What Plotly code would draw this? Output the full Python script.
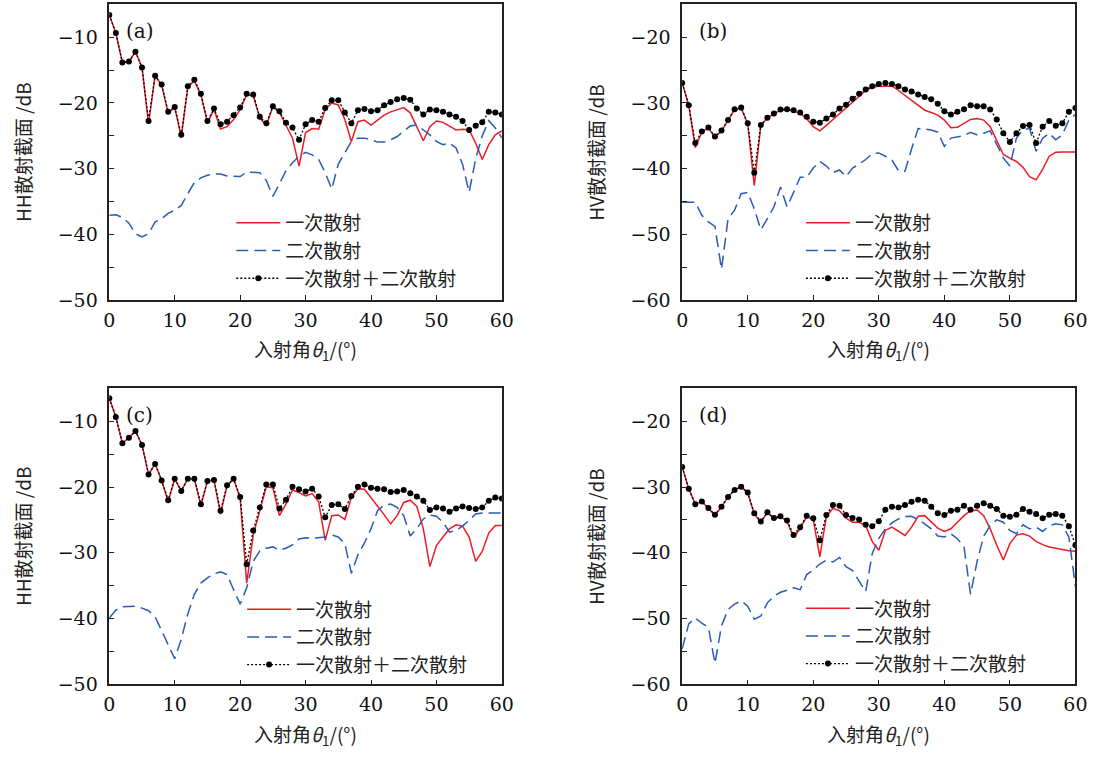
import plotly.graph_objects as go

W, H = 1113, 760

angles = list(range(61))

# ---------------- panel (a): HH ----------------
a_single = [-6.6, -9.35, -13.85, -13.7, -12.2, -14.6, -23.2, -15.85, -17.3, -21.5,
            -20.7, -25.2, -17.6, -16.6, -18.8, -23.0, -21.0, -23.95, -23.6, -22.5,
            -21.0, -18.75, -18.9, -22.3, -23.4, -20.6, -21.4, -23.3, -25.35, -29.6,
            -24.5, -23.9, -24.0, -21.0, -20.0, -20.3, -22.5, -25.85, -22.85, -22.6,
            -23.35, -22.6, -21.85, -21.35, -21.0, -20.7, -21.5, -23.6, -25.75, -23.6,
            -22.75, -22.95, -23.5, -24.1, -24.0, -24.1, -26.1, -28.6, -26.35, -24.85, -24.25]
a_double = [-37.1, -37.0, -37.4, -38.3, -39.9, -40.4, -39.9, -38.1, -37.6, -36.8,
            -36.3, -35.6, -33.8, -32.1, -31.4, -31.0, -30.8, -30.8, -31.1, -31.2,
            -31.2, -30.5, -30.5, -30.6, -31.8, -34.2, -32.3, -30.3, -29.1, -28.1,
            -27.5, -27.9, -28.6, -30.6, -33.1, -29.3, -27.6, -25.85, -25.35, -25.35,
            -25.6, -25.95, -25.95, -25.6, -25.1, -24.35, -23.5, -23.35, -24.1, -24.85,
            -25.85, -26.35, -26.1, -26.85, -29.35, -33.6, -28.5, -25.0, -22.7, -23.8, -25.3]
a_total = [-6.6, -9.35, -13.85, -13.7, -12.2, -14.6, -22.75, -15.85, -17.2, -21.35,
           -20.6, -24.85, -17.45, -16.45, -18.6, -22.75, -20.85, -23.25, -22.85, -21.85,
           -20.7, -18.6, -18.7, -22.1, -23.1, -20.5, -21.25, -23.0, -23.75, -25.6,
           -23.25, -22.6, -22.85, -20.75, -19.6, -19.6, -21.45, -23.1, -21.1, -20.9,
           -21.25, -21.1, -20.35, -19.85, -19.45, -19.25, -19.5, -20.85, -21.75, -21.0,
           -21.1, -21.35, -21.75, -22.1, -22.75, -24.1, -23.45, -22.95, -21.35, -21.45, -21.75]

# ---------------- panel (b): HV ----------------
b_single = [-26.95, -30.35, -36.8, -34.4, -33.8, -35.2, -34.25, -32.65, -31.0, -30.75,
            -33.2, -42.6, -33.4, -32.3, -31.7, -31.1, -31.05, -31.2, -31.6, -32.4,
            -33.6, -34.25, -33.4, -32.5, -31.6, -30.8, -29.8, -28.9, -28.1, -27.6,
            -27.45, -27.45, -27.4, -28.1, -28.85, -29.6, -30.35, -31.1, -31.45, -31.85,
            -32.6, -33.75, -33.7, -33.1, -32.5, -32.35, -32.6, -33.6, -35.85, -37.84,
            -38.4, -38.9, -39.8, -41.2, -41.7, -40.1, -38.1, -37.5, -37.45, -37.45, -37.45]
b_double = [-45.1, -45.1, -45.1, -47.1, -48.1, -48.8, -55.3, -47.6, -46.3, -43.8,
            -43.6, -46.1, -49.3, -47.6, -45.8, -42.8, -45.8, -43.6, -41.3, -41.3,
            -39.9, -38.9, -39.6, -40.6, -40.2, -41.2, -39.9, -39.3, -38.6, -37.7,
            -37.6, -38.1, -38.7, -40.3, -40.4, -37.0, -33.9, -33.95, -34.1, -34.45,
            -36.6, -35.35, -35.1, -34.95, -34.45, -34.85, -34.6, -34.25, -36.35, -38.35,
            -39.6, -35.35, -34.1, -33.85, -37.35, -35.35, -34.6, -35.6, -34.85, -32.6, -31.75]
b_total = [-26.95, -30.35, -36.1, -34.35, -33.75, -35.1, -34.2, -32.6, -30.95, -30.7,
           -33.1, -40.6, -33.35, -32.25, -31.6, -31.0, -30.95, -31.1, -31.45, -32.1,
           -32.85, -33.0, -32.35, -31.75, -30.85, -30.25, -29.35, -28.6, -27.95, -27.45,
           -27.1, -26.95, -27.1, -27.45, -27.95, -28.25, -28.7, -29.1, -29.45, -30.1,
           -31.25, -31.75, -31.35, -30.95, -30.35, -30.5, -30.5, -31.0, -32.5, -34.6,
           -35.95, -34.6, -33.5, -33.35, -36.1, -33.6, -32.75, -33.45, -33.1, -31.35, -30.75]

# ---------------- panel (c): HH ----------------
c_single = [-6.5, -9.35, -13.35, -12.5, -11.5, -13.6, -18.1, -16.5, -19.0, -22.2,
            -18.75, -20.6, -18.75, -18.75, -22.8, -19.1, -18.95, -24.1, -19.8, -18.8,
            -21.7, -34.6, -27.3, -23.6, -19.95, -20.1, -24.35, -22.6, -20.45, -20.85,
            -21.35, -21.0, -22.25, -28.1, -24.35, -24.25, -24.95, -21.6, -20.25, -20.35,
            -21.6, -22.85, -24.2, -25.6, -24.35, -22.35, -22.0, -22.95, -26.35, -32.1,
            -28.9, -27.6, -26.35, -25.75, -25.95, -27.6, -31.3, -29.8, -27.0, -25.85, -25.85]
c_double = [-39.9, -38.7, -38.2, -38.1, -38.1, -38.4, -38.8, -39.7, -41.8, -44.1,
            -46.1, -43.1, -39.3, -36.3, -34.6, -33.8, -33.2, -32.9, -33.3, -35.6,
            -37.8, -35.3, -31.3, -29.7, -29.3, -29.1, -29.6, -29.3, -28.8, -27.9,
            -27.7, -27.8, -27.7, -27.6, -27.3, -27.6, -28.6, -33.1, -30.3, -28.5,
            -26.35, -23.6, -22.75, -22.6, -23.1, -24.35, -27.45, -26.35, -24.85, -24.25,
            -24.45, -25.35, -26.85, -26.6, -25.95, -24.95, -24.1, -23.95, -23.95, -23.95, -23.95]
c_total = [-6.5, -9.35, -13.35, -12.5, -11.5, -13.6, -18.1, -16.5, -19.0, -22.0,
           -18.75, -20.6, -18.75, -18.75, -22.6, -19.1, -18.95, -23.6, -19.75, -18.75,
           -21.5, -31.74, -26.6, -23.1, -19.6, -19.6, -23.25, -21.95, -19.95, -20.35,
           -20.7, -20.25, -21.45, -24.6, -22.75, -22.6, -23.35, -21.35, -19.95, -19.6,
           -20.1, -20.25, -20.35, -20.75, -20.7, -20.45, -20.95, -21.45, -22.1, -23.5,
           -23.1, -23.25, -23.75, -23.25, -22.95, -23.2, -23.35, -23.1, -22.1, -21.6, -21.75]

# ---------------- panel (d): HV ----------------
d_single = [-26.95, -30.25, -32.6, -32.2, -33.25, -34.3, -33.0, -31.5, -30.45, -29.95,
            -30.9, -34.1, -35.35, -33.9, -34.8, -34.55, -35.2, -37.7, -36.3, -34.5,
            -34.95, -40.6, -34.45, -33.25, -33.6, -34.75, -35.35, -35.35, -35.85, -38.3,
            -39.6, -36.6, -36.1, -36.75, -37.35, -36.1, -34.45, -34.35, -35.25, -36.25,
            -36.75, -36.35, -35.35, -34.35, -33.6, -33.5, -34.35, -36.35, -38.84, -41.1,
            -38.6, -37.3, -37.1, -37.45, -38.25, -38.75, -39.1, -39.35, -39.5, -39.7, -39.75]
d_double = [-54.6, -50.8, -49.9, -50.7, -51.3, -56.8, -51.1, -48.6, -47.8, -47.3,
            -48.1, -50.1, -49.6, -47.6, -46.6, -46.0, -45.7, -45.3, -45.6, -43.3,
            -42.6, -41.7, -41.1, -41.4, -40.7, -42.1, -42.7, -44.3, -45.9, -40.1,
            -37.8, -36.35, -35.45, -34.85, -34.5, -34.45, -34.95, -35.6, -36.35, -37.45,
            -37.6, -37.1, -37.85, -39.1, -46.3, -41.3, -37.45, -35.85, -35.0, -35.35,
            -36.6, -37.1, -35.75, -36.35, -36.1, -36.75, -35.85, -35.6, -35.75, -37.6, -45.1]
d_total = [-26.95, -30.25, -32.6, -32.2, -33.2, -34.2, -33.0, -31.5, -30.45, -29.95,
           -30.85, -34.0, -35.25, -33.85, -34.7, -34.45, -35.1, -37.3, -36.1, -34.35,
           -34.75, -38.1, -34.25, -32.75, -32.85, -34.25, -34.7, -34.95, -35.75, -35.95,
           -35.2, -33.45, -33.0, -33.1, -32.75, -32.25, -31.95, -32.1, -33.0, -34.0,
           -34.25, -33.6, -33.45, -32.85, -33.45, -32.85, -32.45, -32.85, -33.35, -34.35,
           -34.5, -34.2, -33.35, -33.75, -34.1, -34.75, -34.2, -34.1, -34.35, -35.95, -38.85]

series_names = ["一次散射", "二次散射", "一次散射＋二次散射"]
panel_labels = ["(a)", "(b)", "(c)", "(d)"]
y_titles = ["HH散射截面 /dB", "HV散射截面 /dB", "HH散射截面 /dB", "HV散射截面 /dB"]
x_title = "入射角<i>θ</i><sub>1</sub>/(°)"
y_ranges = [[-50, -5], [-60, -15], [-50, -5], [-60, -15]]

# ---------------- layout geometry (pixels) ----------------
LEFT_X = (105, 504)
RIGHT_X = (687.3, 1087)
TOP_Y = (4.5, 304.5)
BOT_Y = (394, 694.5)
geo = [(LEFT_X, TOP_Y), (RIGHT_X, TOP_Y), (LEFT_X, BOT_Y), (RIGHT_X, BOT_Y)]
legend_pos = [(229, 207), (808, 207), (240, 599), (808, 598)]

def px(x):
    return x / W

def py(y):
    return 1 - y / H

RED = "#ec1c24"
BLUE = "#2a5bb5"
BLACK = "#000000"
AX = "#222222"
SERIF = "DejaVu Serif, Liberation Serif, serif"
CJK = "Noto Sans CJK SC, Liberation Serif, serif"

data = [(a_single, a_double, a_total), (b_single, b_double, b_total),
        (c_single, c_double, c_total), (d_single, d_double, d_total)]

fig = go.Figure()
layout = dict(width=W, height=H, margin=dict(l=0, r=0, t=0, b=0),
              paper_bgcolor="white", plot_bgcolor="white", showlegend=True)
annotations = []

for i, (single, double, total) in enumerate(data):
    n = i + 1
    sfx = "" if n == 1 else str(n)
    xa, ya = "x" + sfx, "y" + sfx
    leg = "legend" + sfx
    fig.add_trace(go.Scatter(x=angles, y=single, mode="lines", name=series_names[0],
                             line=dict(color=RED, width=1.5), xaxis=xa, yaxis=ya,
                             legend=leg, legendgroup=f"s{n}"))
    fig.add_trace(go.Scatter(x=angles, y=double, mode="lines", name=series_names[1],
                             line=dict(color=BLUE, width=1.5, dash="12px,6px"),
                             xaxis=xa, yaxis=ya, legend=leg, legendgroup=f"d{n}"))
    fig.add_trace(go.Scatter(x=angles, y=total, mode="lines+markers", name=series_names[2],
                             line=dict(color=BLACK, width=1.3, dash="2px,2px"),
                             marker=dict(color=BLACK, size=6, symbol="circle"),
                             xaxis=xa, yaxis=ya, legend=leg, legendgroup=f"t{n}"))

    (x0, x1), (y0, y1) = geo[i]
    common = dict(showgrid=False, zeroline=False, showline=True, mirror=True,
                  linecolor=AX, linewidth=1.5, ticks="inside", ticklen=5,
                  tickwidth=1, tickcolor=AX, tickfont=dict(family=SERIF, size=19, color="#111"))
    layout["xaxis" + sfx] = dict(domain=[px(x0), px(x1)], range=[0, 60], tick0=0, dtick=10,
                                 anchor=ya, ticklabelstandoff=2, **common)
    layout["yaxis" + sfx] = dict(domain=[py(y1), py(y0)], range=y_ranges[i], tick0=0, dtick=10,
                                 anchor=xa, ticklabelstandoff=6,
                                 minor=dict(dtick=5, ticks="inside", ticklen=5, tickcolor=AX,
                                            showgrid=False),
                                 **common)
    lx, ly = legend_pos[i]
    layout[leg] = dict(x=px(lx), y=py(ly), xanchor="left", yanchor="top",
                       bgcolor="rgba(0,0,0,0)", borderwidth=0, itemwidth=44,
                       tracegroupgap=0, font=dict(family=CJK, size=19, color="#222"))

    # panel label
    annotations.append(dict(text=panel_labels[i], x=px(x0 + 31), y=py(y0 + 27),
                            xref="paper", yref="paper", xanchor="center", yanchor="middle",
                            showarrow=False, font=dict(family=SERIF, size=20, color="#111")))
    # x title
    annotations.append(dict(text=x_title, x=px((x0 + x1) / 2), y=py(y1 + 51),
                            xref="paper", yref="paper", xanchor="center", yanchor="middle",
                            showarrow=False, font=dict(family=CJK, size=19, color="#222")))
    # y title
    annotations.append(dict(text=y_titles[i], x=px(x0 - 88), y=py((y0 + y1) / 2),
                            xref="paper", yref="paper", xanchor="center", yanchor="middle",
                            showarrow=False, textangle=-90,
                            font=dict(family=CJK, size=19, color="#222")))

layout["annotations"] = annotations
fig.update_layout(**layout)
fig.write_html("out.html")
